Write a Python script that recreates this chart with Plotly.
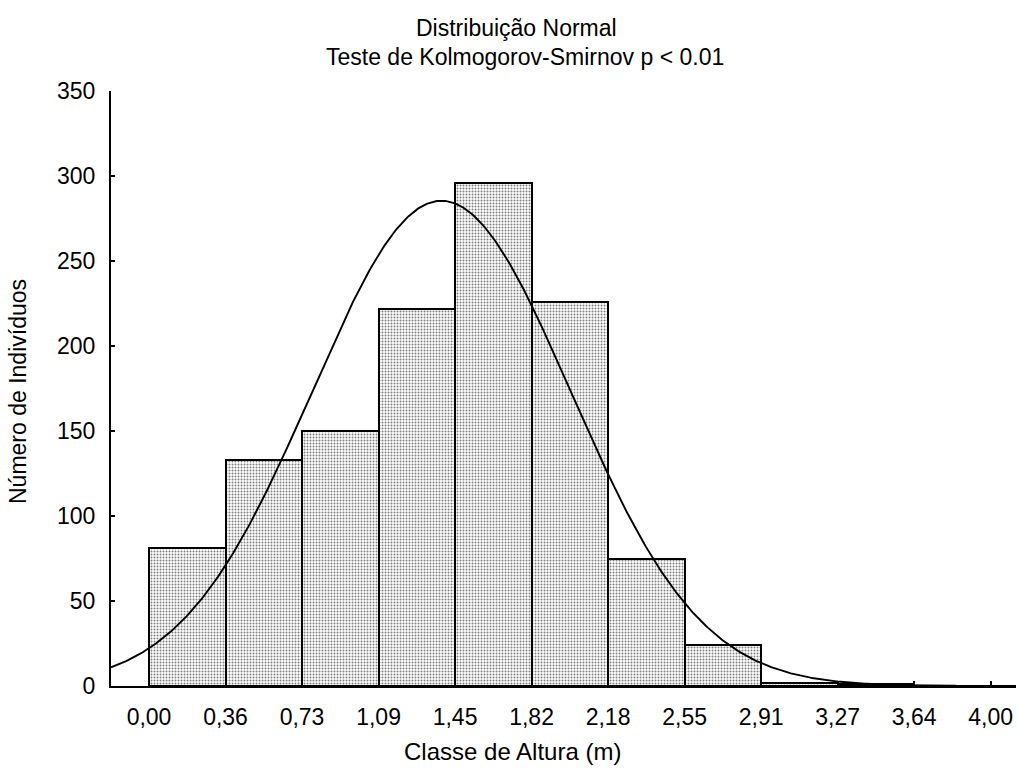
import numpy as np
import plotly.graph_objects as go

# Classes de altura (limites em metros) e frequências observadas
AMPLITUDE = 4.0 / 11.0
ROTULOS_X = ["0,00", "0,36", "0,73", "1,09", "1,45", "1,82",
             "2,18", "2,55", "2,91", "3,27", "3,64", "4,00"]
FREQUENCIAS = [81, 133, 150, 222, 296, 226, 75, 24, 2, 1]

# Parâmetros da normal ajustada
MEDIA = 1.39
DESVIO = 0.615
N_TOTAL = sum(FREQUENCIAS)

ROTULOS_Y = [0, 50, 100, 150, 200, 250, 300, 350]

limites = np.arange(len(ROTULOS_X)) * AMPLITUDE
centros = limites[:-1][: len(FREQUENCIAS)] + AMPLITUDE / 2

x_min, x_max = -0.1806, 4.1207

xs = np.linspace(x_min, x_max, 600)
curva = (N_TOTAL * AMPLITUDE / (DESVIO * np.sqrt(2 * np.pi))
         * np.exp(-0.5 * ((xs - MEDIA) / DESVIO) ** 2))

fonte = "Liberation Sans, Arial, sans-serif"

fig = go.Figure()
fig.add_trace(go.Bar(
    x=centros, y=FREQUENCIAS, width=AMPLITUDE,
    marker=dict(
        color="white",
        line=dict(color="black", width=2),
        pattern=dict(shape=".", fgcolor="black", bgcolor="white",
                     size=3, solidity=0.35),
    ),
    hoverinfo="x+y",
))
fig.add_trace(go.Scatter(
    x=xs, y=curva, mode="lines",
    line=dict(color="black", width=1.9),
    hoverinfo="skip",
))

fig.update_layout(
    width=1018, height=769,
    margin=dict(l=111, r=2, t=91, b=83),
    paper_bgcolor="white", plot_bgcolor="white",
    showlegend=False, bargap=0,
    font=dict(family=fonte, size=23, color="black"),
    xaxis=dict(
        range=[x_min, x_max], tickvals=limites, ticktext=ROTULOS_X,
        showline=True, linecolor="black", linewidth=2,
        ticks="inside", ticklen=5, tickwidth=2, tickcolor="black",
        showgrid=False, zeroline=False, ticklabelstandoff=9,
        tickfont=dict(size=23),
    ),
    yaxis=dict(
        range=[0, 350], tickvals=ROTULOS_Y,
        showline=True, linecolor="black", linewidth=2,
        ticks="inside", ticklen=4, tickwidth=1.5, tickcolor="black",
        showgrid=False, zeroline=False, ticklabelstandoff=9,
        tickfont=dict(size=23),
    ),
    annotations=[
        dict(text="Distribuição Normal", xref="paper", yref="paper",
             x=(516 - 111) / 905, y=1 + (91 - 28) / 595,
             xanchor="center", yanchor="middle", showarrow=False,
             font=dict(size=23)),
        dict(text="Teste de Kolmogorov-Smirnov p < 0.01", xref="paper", yref="paper",
             x=(525 - 111) / 905, y=1 + (91 - 57) / 595,
             xanchor="center", yanchor="middle", showarrow=False,
             font=dict(size=23)),
        dict(text="Classe de Altura (m)", xref="paper", yref="paper",
             x=(512 - 111) / 905, y=(686 - 751) / 595,
             xanchor="center", yanchor="middle", showarrow=False,
             font=dict(size=24)),
        dict(text="Número de Indivíduos", xref="paper", yref="paper",
             x=(18 - 111) / 905, y=(686 - 392) / 595, textangle=-90,
             xanchor="center", yanchor="middle", showarrow=False,
             font=dict(size=23)),
    ],
)

fig.write_html("out.html")
